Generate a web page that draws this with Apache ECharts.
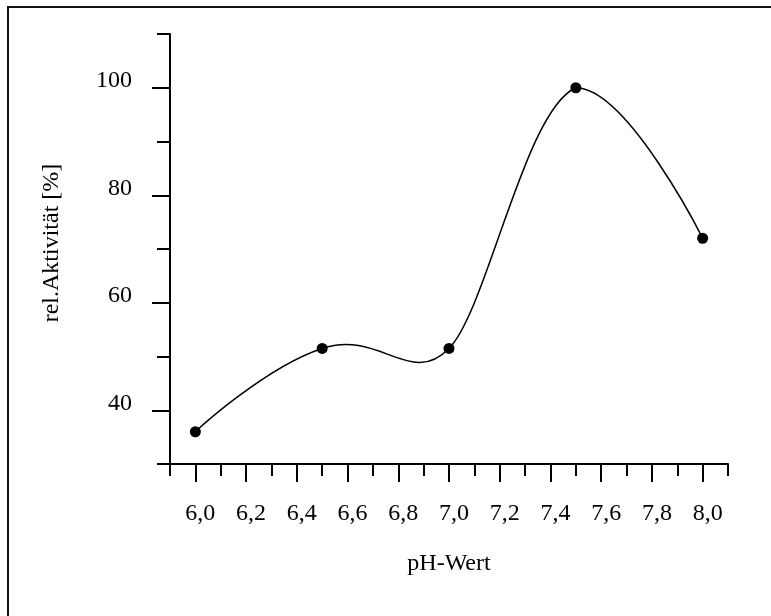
<!DOCTYPE html>
<html>
<head>
<meta charset="utf-8">
<script src="https://cdn.jsdelivr.net/npm/echarts@6/dist/echarts.min.js"></script>
<style>
  html, body { margin: 0; padding: 0; background: #fff; }
  #main { width: 771px; height: 616px; }
</style>
</head>
<body>
<div id="main"></div>
<script>
// pH values and relative activity
var phValues = [6.0, 6.5, 7.0, 7.5, 8.0];
var activity = [36, 51.5, 51.5, 100, 72];
var xLongTicks = [6.0, 6.2, 6.4, 6.6, 6.8, 7.0, 7.2, 7.4, 7.6, 7.8, 8.0];
var yLongTicks = [40, 60, 80, 100];

var font = 'Liberation Serif, Times New Roman, serif';
var myChart = echarts.init(document.getElementById('main'));

var points = phValues.map(function (x, i) { return [x, activity[i]]; });

// bezier smoothing, arms limited by the shorter neighbour segment,
// control points kept inside the points' box
function controlPoints(pts, smooth) {
    var min = [Infinity, Infinity], max = [-Infinity, -Infinity];
    pts.forEach(function (p) {
        min[0] = Math.min(min[0], p[0]); min[1] = Math.min(min[1], p[1]);
        max[0] = Math.max(max[0], p[0]); max[1] = Math.max(max[1], p[1]);
    });
    var clamp = function (c) {
        return [Math.min(Math.max(c[0], min[0]), max[0]), Math.min(Math.max(c[1], min[1]), max[1])];
    };
    var cps = [];
    for (var i = 0; i < pts.length; i++) {
        var p = pts[i];
        if (i === 0 || i === pts.length - 1) { cps.push([p, p]); continue; }
        var prev = pts[i - 1], next = pts[i + 1];
        var vx = (next[0] - prev[0]) * smooth, vy = (next[1] - prev[1]) * smooth;
        var d0 = Math.hypot(p[0] - prev[0], p[1] - prev[1]);
        var d1 = Math.hypot(p[0] - next[0], p[1] - next[1]);
        var k = Math.min(d0, d1) / (d0 + d1 || 1);
        cps.push([clamp([p[0] - vx * k, p[1] - vy * k]), clamp([p[0] + vx * k, p[1] + vy * k])]);
    }
    return cps;
}

function renderCurve(params, api) {
    var i = params.dataIndex;
    if (i >= points.length - 1) return null;
    var pts = points.map(function (d) { return api.coord(d); });
    var cps = controlPoints(pts, 0.5);
    var a = pts[i], b = pts[i + 1];
    return {
        type: 'bezierCurve',
        shape: {
            x1: a[0], y1: a[1], x2: b[0], y2: b[1],
            cpx1: cps[i][1][0], cpy1: cps[i][1][1],
            cpx2: cps[i + 1][0][0], cpy2: cps[i + 1][0][1]
        },
        style: { stroke: '#000', lineWidth: 1.5, fill: null }
    };
}

var axisLine = { show: true, lineStyle: { color: '#000', width: 2 } };

var option = {
    animation: false,
    backgroundColor: '#fff',
    grid: { left: 170, top: 34, right: 43, bottom: 152 },
    graphic: [{
        type: 'rect',
        shape: { x: 8, y: 7, width: 900, height: 900 },
        style: { fill: 'none', stroke: '#111', lineWidth: 2 },
        silent: true
    }],
    xAxis: [{
        type: 'value', min: 5.9, max: 8.1, interval: 0.1,
        position: 'bottom',
        axisLine: axisLine,
        axisTick: { show: true, length: 12, lineStyle: { color: '#000', width: 2 } },
        axisLabel: { show: false },
        splitLine: { show: false },
        name: 'pH-Wert', nameLocation: 'middle', nameGap: 88,
        nameTextStyle: { fontFamily: font, fontSize: 24, color: '#000' }
    }, {
        type: 'value', min: 5.9, max: 8.1, interval: 0.1,
        position: 'bottom', offset: 0,
        axisLine: { show: false },
        axisTick: { show: true, length: 18, customValues: xLongTicks, lineStyle: { color: '#000', width: 2 } },
        axisLabel: {
            show: true, customValues: xLongTicks, margin: 38,
            fontFamily: font, fontSize: 24, color: '#000',
            padding: [0, 0, 0, 10],
            formatter: function (v) { return v.toFixed(1).replace('.', ','); }
        },
        splitLine: { show: false }
    }],
    yAxis: [{
        type: 'value', min: 30, max: 110, interval: 10,
        position: 'left',
        axisLine: axisLine,
        axisTick: { show: true, length: 13, lineStyle: { color: '#000', width: 2 } },
        axisLabel: { show: false },
        splitLine: { show: false },
        name: 'rel.Aktivität [%]', nameLocation: 'middle', nameGap: 106,
        nameTextStyle: { fontFamily: font, fontSize: 24, color: '#000', padding: [0, 0, 0, 12] }
    }, {
        type: 'value', min: 30, max: 110, interval: 10,
        position: 'left', offset: 0,
        axisLine: { show: false },
        axisTick: { show: true, length: 18, customValues: yLongTicks, lineStyle: { color: '#000', width: 2 } },
        axisLabel: {
            show: true, customValues: yLongTicks, margin: 38,
            fontFamily: font, fontSize: 24, color: '#000',
            verticalAlign: 'bottom', lineHeight: 14
        },
        splitLine: { show: false }
    }],
    series: [{
        type: 'custom',
        data: points,
        renderItem: renderCurve,
        clip: false,
        z: 2
    }, {
        type: 'scatter',
        data: points,
        symbol: 'circle',
        symbolSize: 11,
        itemStyle: { color: '#000', opacity: 1 },
        z: 3
    }]
};
myChart.setOption(option);
</script>
</body>
</html>
